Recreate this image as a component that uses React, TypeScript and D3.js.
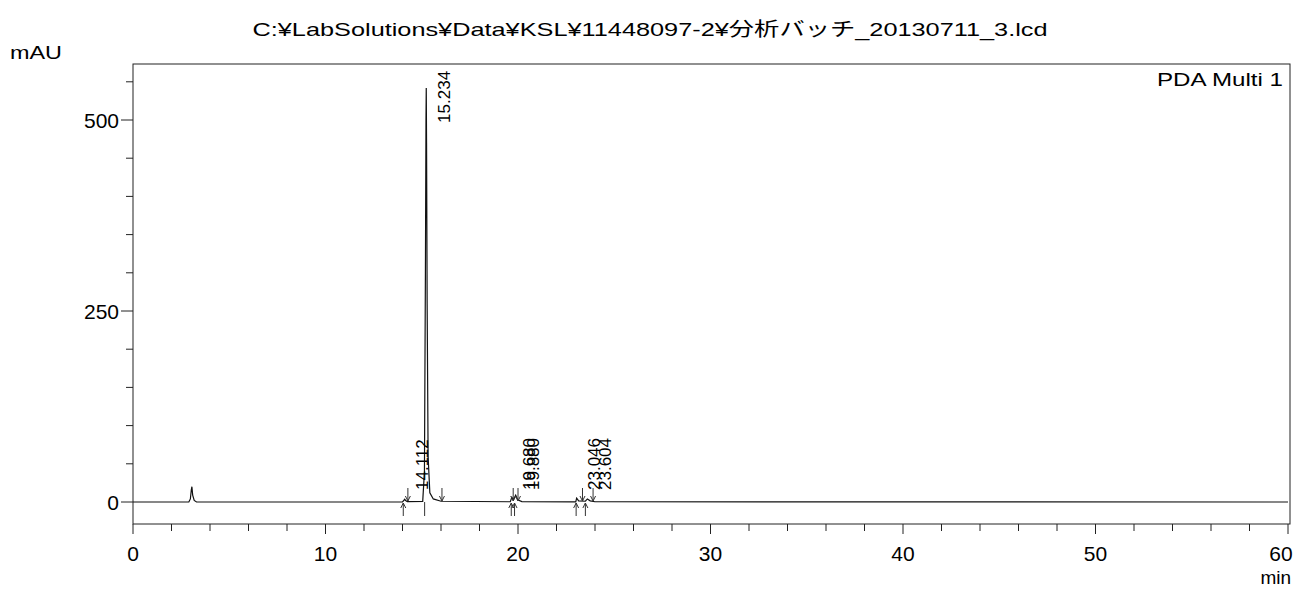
import React from "react";
import * as d3 from "d3";

const width = 1296,
  height = 589;
const frame = { left: 133, right: 1290, top: 64, bottom: 524 };

const title = "C:¥LabSolutions¥Data¥KSL¥11448097-2¥分析バッチ_20130711_3.lcd";
const yLabel = "mAU";
const xLabel = "min";
const channel = "PDA Multi 1";

// chromatogram trace (min, mAU)
const traceTime = [
  0, 2.9, 2.98, 3.03, 3.06, 3.1, 3.18, 3.3, 14.0, 14.08, 14.112, 14.16, 14.25,
  15.05, 15.14, 15.19, 15.22, 15.234, 15.25, 15.28, 15.33, 15.42, 15.6, 16.0,
  19.6, 19.68, 19.76, 19.88, 19.98, 20.2, 23.0, 23.046, 23.15, 23.5, 23.604,
  23.75, 24.0, 60,
];
const traceMAU = [
  0, 0, 4, 16, 20, 9, 2, 0, 0, 2.5, 3.5, 2, 0.5, 0.8, 40, 300, 500, 542, 470,
  260, 60, 12, 4, 1, 0.3, 6, 3, 9, 3, 0.5, 0.2, 5, 1.5, 1, 4, 1.5, 0.3, 0,
];

const peakTimes = [14.112, 15.234, 19.68, 19.88, 23.046, 23.604];
const peakMAU = [3.5, 542, 6, 9, 5, 4];
const peakNames = ["14.112", "15.234", "19.680", "19.880", "23.046", "23.604"];

// integration marks: up arrows below baseline, down arrows above, plain drop line
const upMarks = [14.04, 19.65, 19.82, 23.02, 23.5];
const downMarks = [14.28, 16.05, 19.75, 20.0, 23.35, 23.9];
const dropMarks = [15.15];

const yMajor = [0, 250, 500];
const yMinor = [50, 100, 150, 200, 300, 350, 400, 450, 550];
const xMajor = [0, 10, 20, 30, 40, 50, 60];
const xMinor = d3.range(0, 61, 2).filter((t) => t % 10 !== 0);

const x = d3.scaleLinear().domain([0, 60]).range([133, 1288]);
const y = d3.scaleLinear().domain([0, 500]).range([502, 120]);

const font = "'Liberation Sans', Arial, sans-serif";

export default function App() {
  const pts = traceTime.map((t, i) => [t, traceMAU[i]] as [number, number]);
  const line = d3
    .line<[number, number]>()
    .x((d) => x(d[0]))
    .y((d) => y(d[1]));
  const base = y(0);

  const arrowUp = (px: number) =>
    `M${px},${base + 14}V${base + 1}M${px - 2.5},${base + 6}L${px},${base + 1}L${px + 2.5},${base + 6}`;
  const arrowDown = (px: number) =>
    `M${px},${base - 14}V${base - 1}M${px - 2.5},${base - 6}L${px},${base - 1}L${px + 2.5},${base - 6}`;

  return (
    <svg
      width={width}
      height={height}
      style={{ position: "fixed", left: 0, top: 0, background: "#fff" }}
    >
      <text
        x={650}
        y={36}
        textAnchor="middle"
        fontSize={19}
        textLength={795}
        lengthAdjust="spacingAndGlyphs"
        fontFamily="'Liberation Sans', 'Noto Sans CJK JP', sans-serif"
      >
        {title}
      </text>
      <text x={10} y={59} fontSize={19} fontFamily={font} textLength={52} lengthAdjust="spacingAndGlyphs">
        {yLabel}
      </text>

      {/* frame */}
      <rect
        x={frame.left}
        y={frame.top}
        width={frame.right - frame.left}
        height={frame.bottom - frame.top}
        fill="none"
        stroke="#222"
        strokeWidth={1}
      />
      <text
        x={1283}
        y={86}
        textAnchor="end"
        fontSize={19}
        fontFamily={font}
        textLength={126}
        lengthAdjust="spacingAndGlyphs"
      >
        {channel}
      </text>

      {/* y axis */}
      {yMajor.map((v) => (
        <g key={"ym" + v}>
          <line x1={frame.left - 12} x2={frame.left} y1={y(v)} y2={y(v)} stroke="#222" />
          <text
            x={frame.left - 14}
            y={y(v)}
            textAnchor="end"
            dominantBaseline="central"
            fontSize={21}
            fontFamily={font}
          >
            {v}
          </text>
        </g>
      ))}
      {yMinor.map((v) => (
        <line key={"yn" + v} x1={frame.left - 7} x2={frame.left} y1={y(v)} y2={y(v)} stroke="#222" />
      ))}

      {/* x axis */}
      {xMajor.map((t) => (
        <g key={"xm" + t}>
          <line x1={x(t)} x2={x(t)} y1={frame.bottom} y2={frame.bottom + 10} stroke="#222" />
          <text
            x={Math.min(x(t), 1281)}
            y={561}
            textAnchor="middle"
            fontSize={21}
            fontFamily={font}
          >
            {t}
          </text>
        </g>
      ))}
      {xMinor.map((t) => (
        <line key={"xn" + t} x1={x(t)} x2={x(t)} y1={frame.bottom} y2={frame.bottom + 7} stroke="#222" />
      ))}
      <text x={1291} y={584} textAnchor="end" fontSize={19} fontFamily={font}>
        {xLabel}
      </text>

      {/* trace */}
      <path d={line(pts) ?? ""} fill="none" stroke="#111" strokeWidth={1.2} />

      {/* integration marks */}
      {upMarks.map((t) => (
        <path key={"u" + t} d={arrowUp(x(t))} fill="none" stroke="#333" strokeWidth={1} />
      ))}
      {downMarks.map((t) => (
        <path key={"d" + t} d={arrowDown(x(t))} fill="none" stroke="#333" strokeWidth={1} />
      ))}
      {dropMarks.map((t) => (
        <line key={"p" + t} x1={x(t)} x2={x(t)} y1={base} y2={base + 14} stroke="#333" />
      ))}

      {/* peak labels */}
      {peakTimes.map((t, i) => {
        const px = x(t) + 18;
        const py = Math.min(y(peakMAU[i]) + 35, base - 12);
        return (
          <text
            key={"l" + i}
            transform={`translate(${px},${py}) rotate(-90)`}
            dominantBaseline="central"
            fontSize={17}
            fontFamily={font}
          >
            {peakNames[i]}
          </text>
        );
      })}
    </svg>
  );
}
